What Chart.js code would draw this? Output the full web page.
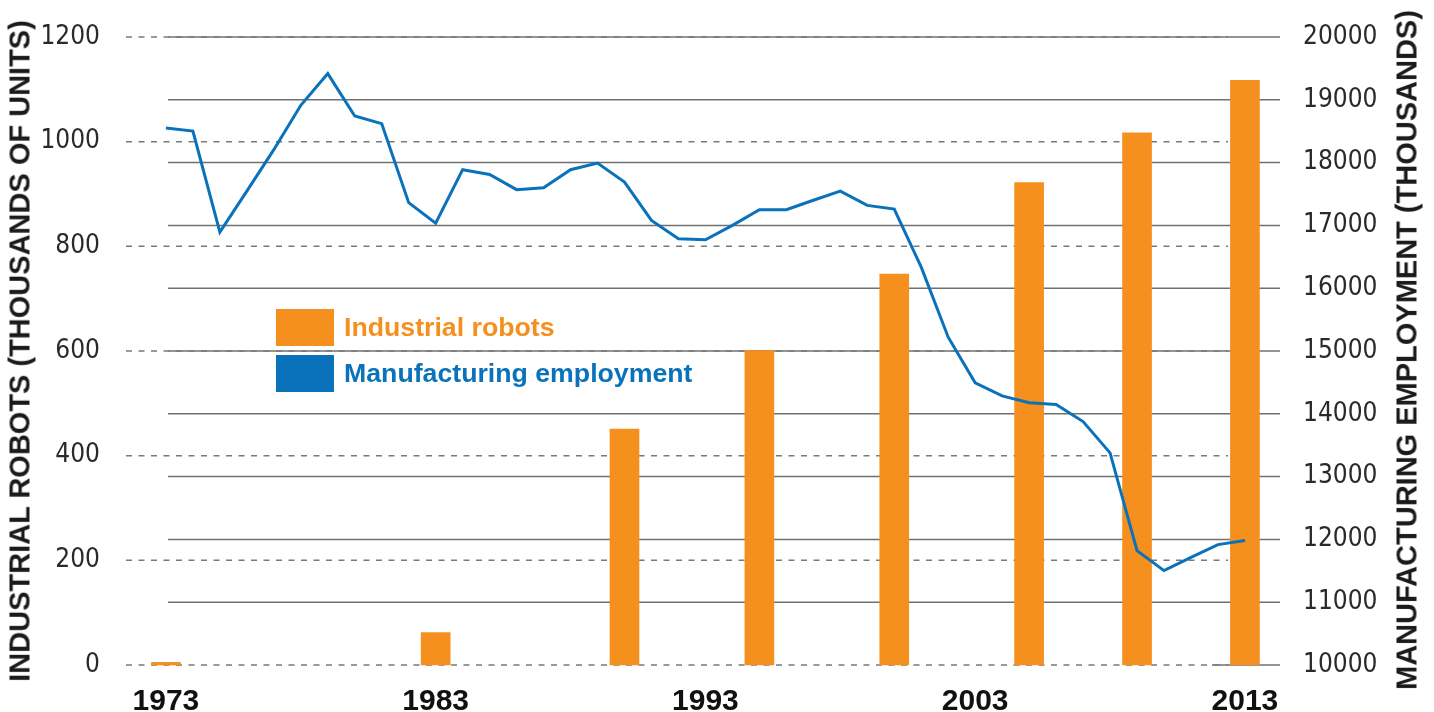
<!DOCTYPE html>
<html>
<head>
<meta charset="utf-8">
<script src="https://cdn.jsdelivr.net/npm/chart.js@4.4.1/dist/chart.umd.min.js"></script>
<style>
  body { margin: 0; background: #fff; }
  #wrap { position: relative; width: 1434px; height: 712px; }
  .axis-title {
    position: absolute;
    font-family: 'Liberation Sans', Arial, sans-serif;
    font-weight: bold;
    font-size: 29px;
    color: #1a1a1a;
    white-space: nowrap;
    transform: translate(-50%, -50%) rotate(-90deg);
  }
  .legend-item {
    position: absolute;
    left: 276px;
    display: flex;
    align-items: center;
    font-family: 'Liberation Sans', Arial, sans-serif;
    font-weight: bold;
    font-size: 26.7px;
  }
  .legend-item span.box { width: 58px; height: 37px; margin-right: 10px; }
</style>
</head>
<body>
<div id="wrap">
  <canvas id="chart"></canvas>
  <div class="axis-title" style="left:20px; top:351px;">INDUSTRIAL ROBOTS (THOUSANDS OF UNITS)</div>
  <div class="axis-title" style="left:1407px; top:350px;">MANUFACTURING EMPLOYMENT (THOUSANDS)</div>
  <div class="legend-item" style="top:309px; color:#f5901e;"><span class="box" style="background:#f5901e"></span>Industrial robots</div>
  <div class="legend-item" style="top:355px; color:#0a72ba;"><span class="box" style="background:#0a72ba"></span>Manufacturing employment</div>
</div>
<script>
const years = [1973, 1974, 1975, 1976, 1977, 1978, 1979, 1980, 1981, 1982,
               1983, 1984, 1985, 1986, 1987, 1988, 1989, 1990, 1991, 1992,
               1993, 1994, 1995, 1996, 1997, 1998, 1999, 2000, 2001, 2002,
               2003, 2004, 2005, 2006, 2007, 2008, 2009, 2010, 2011, 2012, 2013];
// manufacturing employment, thousands (right axis)
const employment = [18550, 18502, 16893, 17546, 18206, 18912, 19417, 18741, 18620, 17362,
                    17036, 17887, 17812, 17569, 17600, 17887, 17993, 17690, 17080, 16788,
                    16772, 17000, 17250, 17250, 17400, 17546, 17319, 17260, 16335, 15220,
                    14493, 14286, 14175, 14148, 13877, 13378, 11821, 11503, 11715, 11917, 11981];
// industrial robots, thousands of units (left axis)
const robotYears = [1973, 1983, 1990, 1995, 2000, 2005, 2009, 2013];
const robotUnits = [5, 62, 451, 601, 747, 922, 1017, 1117];
const yearTicks = [1973, 1983, 1993, 2003, 2013];

const orange = '#f5901e';
const blue = '#0a72ba';
const tickFont = "'Liberation Sans Narrow', 'DejaVu Sans Condensed', 'Roboto', sans-serif";

// two sets of grid lines: dashed for the left axis, solid for the right
const splitGrid = {
    id: 'splitGrid',
    beforeDatasetsDraw(chart) {
        const ctx = chart.ctx;
        const area = chart.chartArea;
        const y = chart.scales.y;
        const y1 = chart.scales.y1;
        ctx.save();
        ctx.lineWidth = 1.5;
        ctx.strokeStyle = '#707070';
        y1.ticks.forEach((t, i) => {
            const py = y1.getPixelForValue(t.value);
            const x0 = i === 0 ? area.right - 68 : area.left + 42;
            ctx.beginPath();
            ctx.moveTo(x0, py);
            ctx.lineTo(area.right, py);
            ctx.stroke();
        });
        ctx.setLineDash([6, 6.5]);
        ctx.strokeStyle = '#7a7a7a';
        y.ticks.forEach(t => {
            const py = y.getPixelForValue(t.value);
            ctx.beginPath();
            ctx.moveTo(area.left, py);
            ctx.lineTo(area.right - 52, py);
            ctx.stroke();
        });
        ctx.restore();
    }
};

// vertical axes: fixed width, no extra top/bottom padding from tick labels
function fitY(width) {
    return axis => {
        axis.width = width;
        axis.paddingTop = 0;
        axis.paddingBottom = 0;
    };
}

new Chart(document.getElementById('chart'), {
    type: 'bar',
    data: {
        datasets: [
            {
                type: 'line',
                label: 'Manufacturing employment',
                data: years.map((yr, i) => ({ x: yr, y: employment[i] })),
                yAxisID: 'y1',
                borderColor: blue,
                borderWidth: 3,
                pointRadius: 0,
                tension: 0,
                order: 0,
            },
            {
                type: 'bar',
                label: 'Industrial robots',
                data: robotYears.map((yr, i) => ({ x: yr, y: robotUnits[i] })),
                yAxisID: 'y',
                backgroundColor: orange,
                barThickness: 29,
                clip: false,
                order: 1,
            },
        ],
    },
    options: {
        responsive: true,
        maintainAspectRatio: false,
        animation: false,
        layout: { padding: { top: 37, bottom: 0, left: 0, right: 0 } },
        plugins: { legend: { display: false }, tooltip: { enabled: false } },
        scales: {
            x: {
                type: 'linear',
                offset: false,
                bounds: 'data',
                min: 1971.52,
                max: 2014.3,
                grid: { display: false, drawTicks: false, offset: false },
                border: { display: false },
                afterBuildTicks: axis => { axis.ticks = yearTicks.map(v => ({ value: v })); },
                afterFit: axis => { axis.height = 47; },
                ticks: {
                    callback: v => String(v),
                    autoSkip: false,
                    maxRotation: 0,
                    padding: 19,
                    color: '#111',
                    font: { family: "'Liberation Sans', Arial, sans-serif", size: 30, weight: 'bold' },
                },
            },
            y: {
                position: 'left',
                min: 0,
                max: 1200,
                grid: { display: false, drawTicks: false },
                border: { display: false },
                afterFit: fitY(126),
                ticks: {
                    stepSize: 200,
                    padding: 26,
                    color: '#2a2a2a',
                    callback: v => String(v),
                    font: { family: tickFont, size: 26 },
                },
            },
            y1: {
                position: 'right',
                min: 10000,
                max: 20000,
                grid: { display: false, drawTicks: false },
                border: { display: false },
                afterFit: fitY(154),
                ticks: {
                    stepSize: 1000,
                    padding: 23,
                    color: '#2a2a2a',
                    callback: v => String(v),
                    font: { family: tickFont, size: 26 },
                },
            },
        },
    },
    plugins: [splitGrid],
});
</script>
</body>
</html>
